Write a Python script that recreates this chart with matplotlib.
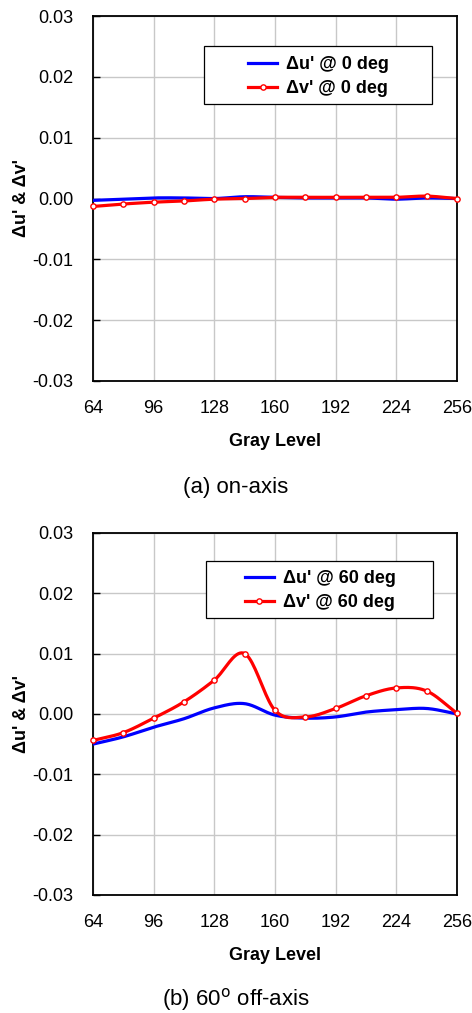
import numpy as np
import matplotlib
matplotlib.use("Agg")
import matplotlib.pyplot as plt
from matplotlib.patches import Rectangle

plt.rcParams['font.family'] = ['Liberation Sans', 'DejaVu Sans']

# gray levels sampled every 16
gray = [64, 80, 96, 112, 128, 144, 160, 176, 192, 208, 224, 240, 256]

# (a) on-axis
du_0 = [-0.0003, -0.0001, 0.0001, 0.0001, 0.0000, 0.0003, 0.0002, 0.0001, 0.0001, 0.0001, -0.0001, 0.0001, 0.0000]
dv_0 = [-0.0013, -0.0009, -0.0006, -0.0004, -0.0001, 0.0000, 0.0002, 0.0002, 0.0002, 0.0002, 0.0002, 0.0004, 0.0000]

# (b) 60 deg off-axis
du_60 = [-0.0050, -0.0038, -0.0022, -0.0008, 0.0010, 0.0017, -0.0002, -0.0007, -0.0005, 0.0003, 0.0007, 0.0009, 0.0000]
dv_60 = [-0.0044, -0.0031, -0.0007, 0.0020, 0.0056, 0.0100, 0.0006, -0.0005, 0.0009, 0.0030, 0.0043, 0.0038, 0.0001]

yticks = [-0.03, -0.02, -0.01, 0.00, 0.01, 0.02, 0.03]
xticks = [64, 96, 128, 160, 192, 224, 256]


def smooth(x, y, n=20):
    # catmull-rom curve through the points, like excel's smoothed line
    x = np.asarray(x, float)
    y = np.asarray(y, float)
    px = np.r_[2 * x[0] - x[1], x, 2 * x[-1] - x[-2]]
    py = np.r_[2 * y[0] - y[1], y, 2 * y[-1] - y[-2]]
    xs, ys = [], []
    t = np.linspace(0, 1, n, endpoint=False)
    for i in range(1, len(px) - 2):
        for p, out in ((px, xs), (py, ys)):
            p0, p1, p2, p3 = p[i - 1], p[i], p[i + 1], p[i + 2]
            out.append(0.5 * (2 * p1 + (-p0 + p2) * t + (2 * p0 - 5 * p1 + 4 * p2 - p3) * t ** 2
                              + (-p0 + 3 * p1 - 3 * p2 + p3) * t ** 3))
    xs.append([x[-1]])
    ys.append([y[-1]])
    return np.concatenate(xs), np.concatenate(ys)


fig = plt.figure(figsize=(4.72, 10.13), dpi=100)
axes_pos = [[0.197, 0.624, 0.771, 0.360], [0.197, 0.1165, 0.771, 0.3575]]
series = [(du_0, dv_0, "0"), (du_60, dv_60, "60")]
captions = ["(a) on-axis", "(b) 60$^{\\mathrm{o}}$ off-axis"]
cap_y = [1 - 488 / 1013.0, 1 - 999 / 1013.0]
# legend frame in axes coords (x0, y0, w, h)
leg_box = [(0.305, 0.759, 0.626, 0.159), (0.310, 0.765, 0.624, 0.158)]

for k in range(2):
    ax = fig.add_axes(axes_pos[k])
    du, dv, ang = series[k]
    sx, sy = smooth(gray, du)
    ax.plot(sx, sy, color='#0000ff', lw=2.3, label="\u0394u' @ %s deg" % ang, zorder=3)
    sx, sy = smooth(gray, dv)
    ax.plot(sx, sy, color='#ff0000', lw=2.3, zorder=4)
    ax.plot(gray, dv, 'o', color='#ff0000', mfc='white', mec='#ff0000', ms=3.8, mew=1.0, zorder=5,
            clip_on=False)
    # proxy for the legend (line + marker)
    ax.plot([], [], '-o', color='#ff0000', lw=2.3, mfc='white', mec='#ff0000', ms=3.8, mew=1.0,
            label="\u0394v' @ %s deg" % ang)

    ax.set_xlim(64, 256)
    ax.set_ylim(-0.03, 0.03)
    ax.set_xticks(xticks)
    ax.set_yticks(yticks)
    ax.set_yticklabels(['%.2f' % v for v in yticks])
    ax.grid(True, color='#c8c8c8', lw=1.0)
    ax.set_axisbelow(True)
    ax.tick_params(direction='in', length=5, width=1, labelsize=13, colors='black', pad=14)
    ax.tick_params(axis='x', length=0, pad=14)
    for s in ax.spines.values():
        s.set_linewidth(1.3)
        s.set_color('black')
    ax.set_xlabel('Gray Level', fontsize=13, fontweight='bold', labelpad=11)
    ax.set_ylabel("\u0394u' & \u0394v'", fontsize=13, fontweight='bold', labelpad=2)

    bx, by, bw, bh = leg_box[k]
    ax.add_patch(Rectangle((bx, by), bw, bh, transform=ax.transAxes, facecolor='white',
                           edgecolor='black', lw=0.9, zorder=6))
    leg = ax.legend(loc='center', bbox_to_anchor=(bx + bw / 2 + 0.002, by + bh / 2 - 0.004),
                    frameon=False, prop={'weight': 'bold', 'size': 13}, handlelength=1.6,
                    borderpad=0, labelspacing=0.4, handletextpad=0.5, borderaxespad=0)
    leg.set_zorder(7)

    fig.text(0.5, cap_y[k], captions[k], ha='center', va='center', fontsize=16)

fig.savefig('out.png', dpi=100)
